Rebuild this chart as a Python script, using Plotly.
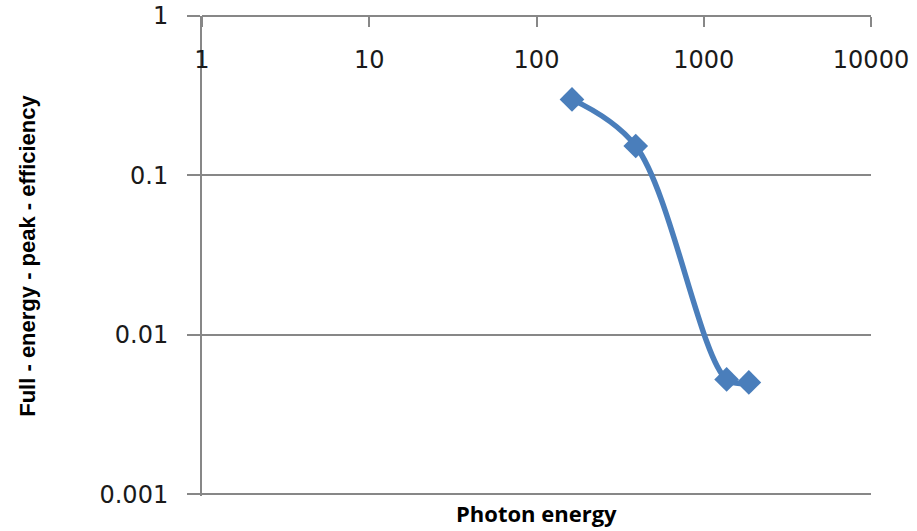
import plotly.graph_objects as go

# Measured full-energy-peak efficiency versus photon energy
energy_kev = [163, 392, 1370, 1860]
efficiency = [0.30, 0.153, 0.00526, 0.00504]

x_ticks = [1, 10, 100, 1000, 10000]
x_tick_text = ["1", "10", "100", "1000", "10000"]
y_ticks = [0.001, 0.01, 0.1, 1]
y_tick_text = ["0.001", "0.01", "0.1", "1"]

line_color = "#4a7ebb"
axis_gray = "#878787"
tick_font = dict(family="DejaVu Sans", size=24, color="#1a1a1a")

fig = go.Figure(
    go.Scatter(
        x=energy_kev,
        y=efficiency,
        mode="lines+markers",
        line=dict(color=line_color, width=5.5, shape="spline", smoothing=1.0),
        marker=dict(symbol="diamond", size=19, color=line_color),
        showlegend=False,
    )
)

# Category axis crosses at the top of the value axis, labels hang below it
fig.update_xaxes(
    type="log",
    range=[0, 4],
    tickvals=x_ticks,
    ticktext=x_tick_text,
    anchor="free",
    position=1,
    side="bottom",
    showline=True,
    linecolor=axis_gray,
    linewidth=2,
    ticks="outside",
    ticklen=10,
    tickwidth=2,
    tickcolor=axis_gray,
    ticklabelstandoff=12,
    showgrid=False,
    zeroline=False,
    tickfont=tick_font,
)

# Range reaches a little below 0.001 so that its gridline is drawn as the bottom border
fig.update_yaxes(
    type="log",
    range=[-3.01, 0],
    tickvals=y_ticks,
    ticktext=y_tick_text,
    showline=True,
    linecolor=axis_gray,
    linewidth=2,
    ticks="outside",
    ticklen=13,
    tickwidth=2,
    tickcolor=axis_gray,
    ticklabelstandoff=14,
    showgrid=True,
    gridcolor=axis_gray,
    gridwidth=1.5,
    zeroline=False,
    tickfont=tick_font,
    title=dict(
        text="<b>Full - energy - peak - efficiency</b>",
        font=dict(family="Liberation Sans", size=22, color="#000000"),
        standoff=58,
    ),
)

fig.add_annotation(
    text="<b>Photon energy</b>",
    xref="paper",
    yref="paper",
    x=0.5,
    y=-0.036,
    yanchor="middle",
    showarrow=False,
    font=dict(family="Open Sans", size=22, color="#000000"),
)

fig.update_layout(
    width=917,
    height=531,
    margin=dict(l=202, r=46, t=16, b=35, autoexpand=False),
    paper_bgcolor="white",
    plot_bgcolor="white",
)

fig.write_html("out.html")
